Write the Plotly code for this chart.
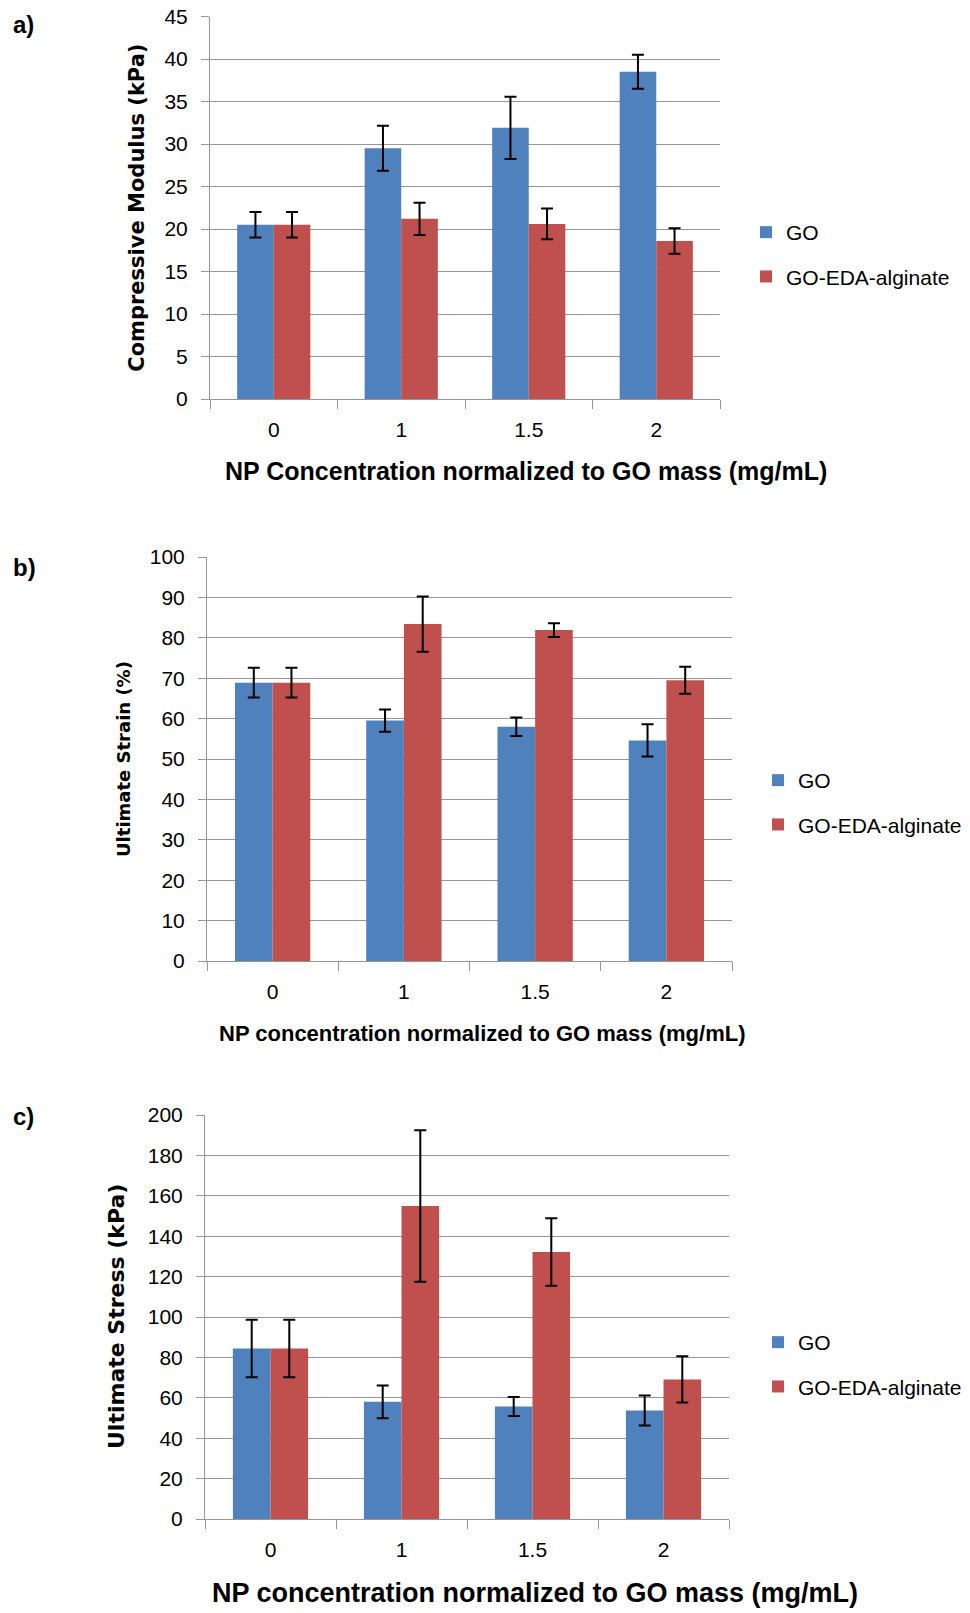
import plotly.graph_objects as go

# Shared categories (NP concentration, mg/mL)
categories = ["0", "1", "1.5", "2"]
series_names = ["GO", "GO-EDA-alginate"]

# a) Compressive modulus (kPa)
modulus_go = [20.5, 29.5, 31.9, 38.5]
modulus_go_err = [1.5, 2.65, 3.65, 2.0]
modulus_alg = [20.5, 21.2, 20.6, 18.6]
modulus_alg_err = [1.5, 1.9, 1.8, 1.5]

# b) Ultimate strain (%)
strain_go = [68.9, 59.5, 58.0, 54.6]
strain_go_err = [3.7, 2.75, 2.3, 4.0]
strain_alg = [68.9, 83.4, 81.9, 69.5]
strain_alg_err = [3.7, 6.85, 1.7, 3.35]

# c) Ultimate stress (kPa)
stress_go = [84.4, 58.0, 55.7, 53.7]
stress_go_err = [14.2, 8.1, 4.65, 7.4]
stress_alg = [84.4, 154.9, 132.2, 69.1]
stress_alg_err = [14.2, 37.5, 16.7, 11.45]

W, H = 970, 1613
BLUE = "#4F81BD"
RED = "#C0504D"
GRID = "#969696"
TICK_FONT = "Liberation Sans, Arial, sans-serif"
TITLE_FONT = "DejaVu Sans, Verdana, sans-serif"


def px_x(x):
    return x / W


def px_y(y):
    return 1 - y / H


panels = [
    dict(
        key="", legend="legend", go_vals=modulus_go, go_err=modulus_go_err,
        alg_vals=modulus_alg, alg_err=modulus_alg_err,
        xdom=(210, 720), ydom=(16.5, 399), yrange=[0, 45], dtick=5,
        ytitle="Compressive Modulus (kPa)", ytitle_size=21, ytitle_x=137,
        xtitle="NP Concentration normalized to GO mass (mg/mL)", xtitle_size=25,
        xtitle_x=526, xtitle_y=471, label="a)", label_y=25,
        leg_x=746, leg_y=212,
    ),
    dict(
        key="2", legend="legend2", go_vals=strain_go, go_err=strain_go_err,
        alg_vals=strain_alg, alg_err=strain_alg_err,
        xdom=(207, 732), ydom=(557, 961), yrange=[0, 100], dtick=10,
        ytitle="Ultimate Strain (%)", ytitle_size=18, ytitle_x=123,
        xtitle="NP concentration normalized to GO mass (mg/mL)", xtitle_size=22,
        xtitle_x=482, xtitle_y=1033, label="b)", label_y=568,
        leg_x=758, leg_y=760,
    ),
    dict(
        key="3", legend="legend3", go_vals=stress_go, go_err=stress_go_err,
        alg_vals=stress_alg, alg_err=stress_alg_err,
        xdom=(205, 729), ydom=(1115, 1519), yrange=[0, 200], dtick=20,
        ytitle="Ultimate Stress (kPa)", ytitle_size=22, ytitle_x=116,
        xtitle="NP concentration normalized to GO mass (mg/mL)", xtitle_size=27,
        xtitle_x=535, xtitle_y=1593, label="c)", label_y=1116,
        leg_x=758, leg_y=1322,
    ),
]

fig = go.Figure()
annotations = []

for p in panels:
    xa = "x" + p["key"]
    ya = "y" + p["key"]
    for name, vals, err, color in [
        (series_names[0], p["go_vals"], p["go_err"], BLUE),
        (series_names[1], p["alg_vals"], p["alg_err"], RED),
    ]:
        fig.add_trace(go.Bar(
            x=categories, y=vals, name=name,
            marker=dict(color=color, line=dict(width=0)),
            error_y=dict(type="data", array=err, visible=True,
                         color="black", thickness=2, width=6),
            xaxis=xa, yaxis=ya, legend=p["legend"], legendgroup=name,
        ))

    xkey = "xaxis" + p["key"]
    ykey = "yaxis" + p["key"]
    fig.update_layout(**{
        xkey: dict(
            domain=[px_x(p["xdom"][0]), px_x(p["xdom"][1])],
            anchor=ya, type="category", tickson="boundaries",
            ticks="outside", ticklen=9, tickcolor=GRID, tickwidth=1,
            showline=True, linecolor=GRID, linewidth=1, showgrid=False,
            tickfont=dict(family=TICK_FONT, size=21, color="black"),
            ticklabelstandoff=12, fixedrange=True, automargin=False,
        ),
        ykey: dict(
            domain=[px_y(p["ydom"][1]), px_y(p["ydom"][0])],
            anchor=xa, range=p["yrange"], dtick=p["dtick"],
            ticks="outside", ticklen=8, tickcolor=GRID, tickwidth=1,
            showline=True, linecolor=GRID, linewidth=1,
            showgrid=True, gridcolor=GRID, gridwidth=1.3, zeroline=False,
            tickfont=dict(family=TICK_FONT, size=21, color="black"),
            ticklabelstandoff=9, fixedrange=True, automargin=False,
        ),
        p["legend"]: dict(
            x=px_x(p["leg_x"]), y=px_y(p["leg_y"]),
            xanchor="left", yanchor="top", bgcolor="rgba(0,0,0,0)",
            font=dict(family=TICK_FONT, size=21, color="black"),
            tracegroupgap=14, itemwidth=30, traceorder="grouped",
        ),
    })

    annotations.append(dict(
        text="<b>" + p["ytitle"] + "</b>", xref="paper", yref="paper",
        x=px_x(p["ytitle_x"]), y=px_y((p["ydom"][0] + p["ydom"][1]) / 2),
        xanchor="center", yanchor="middle", textangle=-90, showarrow=False,
        font=dict(family=TITLE_FONT, size=p["ytitle_size"], color="black"),
    ))
    annotations.append(dict(
        text="<b>" + p["xtitle"] + "</b>", xref="paper", yref="paper",
        x=px_x(p["xtitle_x"]), y=px_y(p["xtitle_y"]),
        xanchor="center", yanchor="middle", showarrow=False,
        font=dict(family=TICK_FONT, size=p["xtitle_size"], color="black"),
    ))
    annotations.append(dict(
        text="<b>" + p["label"] + "</b>", xref="paper", yref="paper",
        x=px_x(11), y=px_y(p["label_y"]),
        xanchor="left", yanchor="middle", showarrow=False,
        font=dict(family=TICK_FONT, size=24, color="black"),
    ))

fig.update_layout(
    width=W, height=H,
    margin=dict(l=0, r=0, t=0, b=0),
    paper_bgcolor="white", plot_bgcolor="white",
    barmode="group", bargap=0.426, bargroupgap=0,
    annotations=annotations,
)

fig.write_html("out.html")
